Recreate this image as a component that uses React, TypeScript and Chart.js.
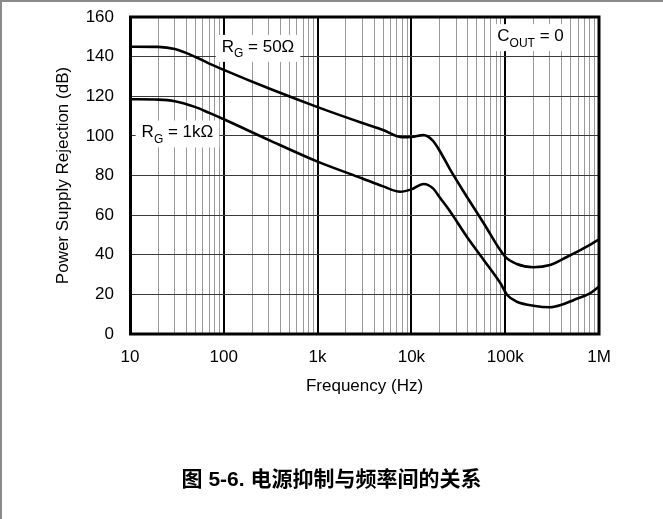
import React, { useEffect, useRef } from 'react';
import { Chart, registerables } from 'chart.js';

Chart.register(...registerables);

// ---- Data ----
const xTickValues = [10, 100, 1000, 10000, 100000, 1000000];
const xTickLabels = ['10', '100', '1k', '10k', '100k', '1M'];
const yTickValues = [0, 20, 40, 60, 80, 100, 120, 140, 160];

const freqRg50 = [10, 20, 30, 50, 70, 100, 300, 1000, 3000, 5000, 8000, 10000, 13500, 17000, 20300, 26000, 39000, 59000, 100000, 133000, 200000, 300000, 460000, 690000, 1000000];
const psrRg50 = [145, 144.9, 143.8, 139.8, 136.5, 133.3, 124, 114.5, 106.5, 103, 99.3, 99.4, 100.4, 97.5, 92, 82.8, 69.3, 55.9, 39, 35.3, 33.7, 34.8, 39, 43.3, 47.8];

const freqRg1k = [10, 20, 30, 50, 70, 100, 300, 1000, 3000, 5000, 7600, 10000, 13500, 17000, 20000, 26000, 39000, 59000, 89000, 105000, 133000, 200000, 300000, 390000, 540000, 800000, 1000000];
const psrRg1k = [118.5, 118.3, 117.5, 114.5, 111.6, 108.4, 98, 87, 78.5, 74.5, 71.8, 73, 75.7, 73.5, 69, 61.7, 49.1, 37.4, 25.6, 19.7, 16.3, 14.3, 13.5, 14.6, 17.2, 20.5, 23.9];

const noteMain = ['R', 'R', 'C'];
const noteSub = ['G', 'G', 'OUT'];
const noteRest = [' = 50Ω', ' = 1kΩ', ' = 0'];
const noteFreq = [95, 13.3, 82400];
const noteDb = [142.4, 99.2, 147.8];

const xTitle = 'Frequency (Hz)';
const yTitle = 'Power Supply Rejection (dB)';
const caption = '图 5-6. 电源抑制与频率间的关系';

const FONT = "'Liberation Sans', Arial, Helvetica, sans-serif";

// grid positions for log axis (1..9 per decade)
const xGridValues: number[] = [];
for (let d = 10; d < 1000000; d *= 10) {
  for (let k = 1; k <= 9; k++) xGridValues.push(k * d);
}
xGridValues.push(1000000);

const isDecade = (v: number) => xTickValues.indexOf(v) >= 0;

const overlayPlugin = {
  id: 'overlay',
  beforeDatasetsDraw(chart: any) {
    const { ctx, scales } = chart;
    const x = scales.x;
    const y = scales.y;
    ctx.save();
    for (let i = 0; i < noteMain.length; i++) {
      const px = x.getPixelForValue(noteFreq[i]);
      const py = y.getPixelForValue(noteDb[i]);
      ctx.font = `17px ${FONT}`;
      const w1 = ctx.measureText(noteMain[i]).width;
      const w3 = ctx.measureText(noteRest[i]).width;
      ctx.font = `12px ${FONT}`;
      const w2 = ctx.measureText(noteSub[i]).width;
      const total = w1 + w2 + w3;
      ctx.fillStyle = '#ffffff';
      ctx.fillRect(px - 6, py - 17, total + 12, 27);
      ctx.fillStyle = '#000000';
      ctx.textBaseline = 'alphabetic';
      ctx.textAlign = 'left';
      ctx.font = `17px ${FONT}`;
      ctx.fillText(noteMain[i], px, py);
      ctx.font = `12px ${FONT}`;
      ctx.fillText(noteSub[i], px + w1, py + 5.5);
      ctx.font = `17px ${FONT}`;
      ctx.fillText(noteRest[i], px + w1 + w2, py);
    }
    ctx.restore();
  },
  afterDatasetsDraw(chart: any) {
    const { ctx, chartArea } = chart;
    ctx.save();
    ctx.strokeStyle = '#000';
    ctx.lineWidth = 3;
    ctx.strokeRect(chartArea.left + 0.5, chartArea.top, chartArea.right - chartArea.left - 0.5, chartArea.bottom - chartArea.top);
    ctx.restore();
  },
};

export default function App() {
  const ref = useRef<HTMLCanvasElement | null>(null);

  useEffect(() => {
    if (!ref.current) return;
    const chart = new Chart(ref.current, {
      type: 'line',
      data: {
        datasets: [
          {
            label: 'RG = 50Ω',
            data: freqRg50.map((f, i) => ({ x: f, y: psrRg50[i] })),
            borderColor: '#000',
            borderWidth: 2.6,
            pointRadius: 0,
            cubicInterpolationMode: 'monotone',
            fill: false,
          },
          {
            label: 'RG = 1kΩ',
            data: freqRg1k.map((f, i) => ({ x: f, y: psrRg1k[i] })),
            borderColor: '#000',
            borderWidth: 2.6,
            pointRadius: 0,
            cubicInterpolationMode: 'monotone',
            fill: false,
          },
        ],
      },
      options: {
        animation: false,
        responsive: false,
        maintainAspectRatio: false,
        layout: { padding: { left: 0, right: 64, top: 17, bottom: 0 } },
        plugins: { legend: { display: false }, tooltip: { enabled: false } },
        scales: {
          x: {
            type: 'logarithmic',
            min: 10,
            max: 1000000,
            afterBuildTicks: (s: any) => {
              s.ticks = xGridValues.map((v) => ({ value: v }));
            },
            afterFit: (s: any) => {
              s.height = 185;
            },
            ticks: {
              autoSkip: false,
              maxRotation: 0,
              padding: 13,
              color: '#000',
              font: { size: 17, family: FONT },
              callback: (v: any) => {
                const i = xTickValues.indexOf(Number(v));
                return i >= 0 ? xTickLabels[i] : '';
              },
            },
            grid: {
              drawTicks: false,
              color: (c: any) => (c.tick && isDecade(c.tick.value) ? '#000' : '#9a9a9a'),
              lineWidth: (c: any) => (c.tick && isDecade(c.tick.value) ? 2 : 1),
            },
            border: { display: false },
            title: {
              display: true,
              text: xTitle,
              color: '#000',
              font: { size: 17, family: FONT },
              padding: { top: 0, bottom: 122 },
            },
          },
          y: {
            min: 0,
            max: 160,
            afterBuildTicks: (s: any) => {
              s.ticks = yTickValues.map((v) => ({ value: v }));
            },
            afterFit: (s: any) => {
              s.width = 130;
              s.paddingTop = 0;
              s.paddingBottom = 0;
            },
            ticks: {
              padding: 16,
              color: '#000',
              font: { size: 17, family: FONT },
            },
            grid: { drawTicks: false, color: '#3a3a3a', lineWidth: 1 },
            border: { display: false },
            title: {
              display: true,
              text: yTitle,
              color: '#000',
              font: { size: 17, family: FONT },
              padding: { top: 53, bottom: 0 },
            },
          },
        },
      },
      plugins: [overlayPlugin],
    } as any);
    return () => chart.destroy();
  }, []);

  return (
    <div style={{ position: 'fixed', left: 0, top: 0, width: 663, height: 519, background: '#fff' }}>
      <canvas ref={ref} width={663} height={519} style={{ position: 'absolute', left: 0, top: 0, width: 663, height: 519 }} />
      <div style={{ position: 'absolute', left: 0, top: 0, width: 663, height: 2, background: '#8a8a8a' }} />
      <div style={{ position: 'absolute', left: 0, top: 0, width: 2, height: 519, background: '#8a8a8a' }} />
      <div
        style={{
          position: 'absolute',
          left: 0,
          width: 663,
          top: 465,
          textAlign: 'center',
          fontFamily: "'Liberation Sans', 'Noto Sans CJK SC', sans-serif",
          fontWeight: 'bold',
          fontSize: 21,
          lineHeight: '27px',
          color: '#000',
        }}
      >
        {caption}
      </div>
    </div>
  );
}
